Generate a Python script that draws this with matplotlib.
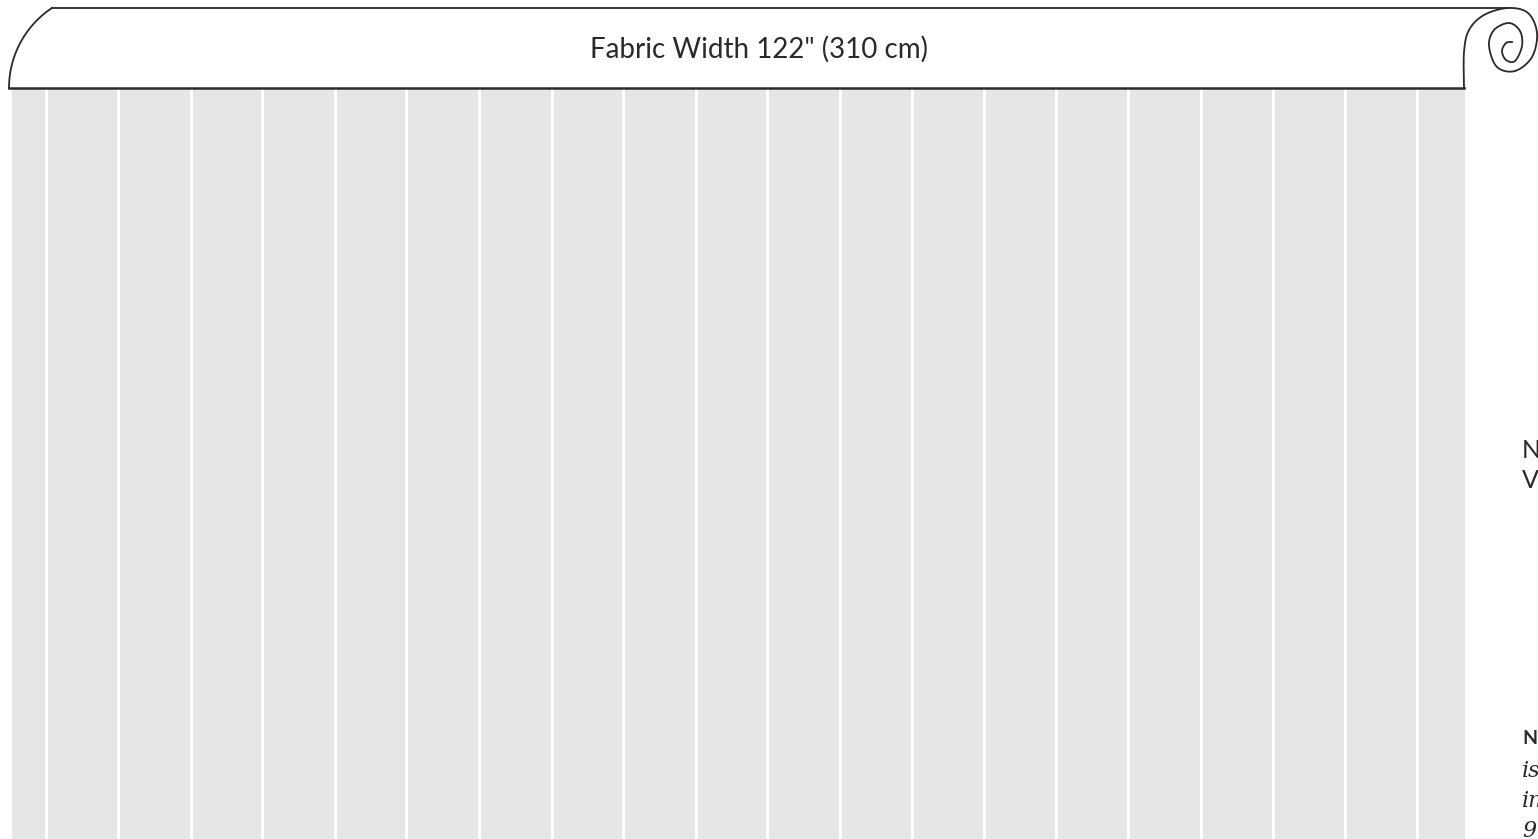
"""
Fabric roll layout diagram (122" wide fabric cut into vertical panels)
"""
import matplotlib.pyplot as plt
import numpy as np

# figure size in pixels
W, H = 1538, 839

# fabric data (inches)
fabric_width = 122
title = 'Fabric Width 122" (310 cm)'
# seam positions measured from the left edge of the fabric
seams = [2.85, 8.9, 15.0, 21.0, 27.1, 33.1, 39.2, 45.3, 51.3, 57.4,
         63.4, 69.5, 75.6, 81.6, 87.7, 93.7, 99.8, 105.9, 111.9, 118.0]

# side text (cut off at the right edge of the picture, as in the source)
side_lines = ['N', 'V']
note_head = 'N'
note_lines = ['is', 'in', '9']

grey = '#e5e6e8'
ink = '#2a2a2a'


def smooth(points, n=20):
    """Catmull-Rom curve through hand-placed points"""
    p = np.array(points, dtype=float)
    p = np.vstack([p[0], p, p[-1]])
    out = []
    for i in range(1, len(p) - 2):
        p0, p1, p2, p3 = p[i - 1], p[i], p[i + 1], p[i + 2]
        t = np.linspace(0, 1, n)[:, None]
        out.append(0.5 * ((2 * p1) + (-p0 + p2) * t
                          + (2 * p0 - 5 * p1 + 4 * p2 - p3) * t ** 2
                          + (-p0 + 3 * p1 - 3 * p2 + p3) * t ** 3))
    return np.vstack(out)


fig = plt.figure(figsize=(W / 100, H / 100), dpi=100)

# fabric panels
ax = fig.add_axes([12 / W, 0, 1453 / W, (H - 88) / H])
ax.set_xlim(0, fabric_width)
ax.set_ylim(0, 1)
ax.axvspan(0, fabric_width, color=grey, lw=0)
for s in seams:
    ax.axvline(s, color='white', lw=2.2)
ax.set_axis_off()

# roll outline drawn in pixel coordinates
ov = fig.add_axes([0, 0, 1, 1])
ov.set_xlim(0, W)
ov.set_ylim(H, 0)
ov.set_axis_off()
ov.patch.set_alpha(0)

# left rounded corner
cx, cy, r = 105, 88, 96
t = np.linspace(np.arctan2(8 - cy, 52 - cx), -np.pi, 60)
ov.plot(cx + r * np.cos(t), cy + r * np.sin(t), color=ink, lw=1.3)
# top and bottom edge
ov.plot([52, 1508], [8, 8], color=ink, lw=1.3)
ov.plot([9, 1464], [88, 88], color=ink, lw=1.8)

# scroll curl on the right
curl = [(1464, 88), (1464, 52), (1469, 30), (1484, 15), (1508, 8),
        (1528, 13), (1537, 33), (1532, 57), (1515, 71), (1497, 67),
        (1489, 46), (1494, 30), (1509, 23), (1520, 31), (1522, 46),
        (1515, 61), (1506, 60), (1502, 51), (1506, 43), (1512, 42)]
c = smooth(curl)
ov.plot(c[:, 0], c[:, 1], color=ink, lw=1.3)

# title
ov.text(759, 49, title, ha='center', va='center', fontsize=20,
        family='Lato', color=ink)

# text on the right
for i, s in enumerate(side_lines):
    ov.text(1522, 451 + i * 29, s, ha='left', va='center', fontsize=18,
            family='Lato', color=ink)
ov.text(1522, 739, note_head, ha='left', va='center', fontsize=14,
        family='Lato', weight='bold', color=ink)
for i, s in enumerate(note_lines):
    ov.text(1522, 771 + i * 30, s, ha='left', va='center', fontsize=16,
            family='DejaVu Serif', style='italic', color=ink)

fig.savefig('out.png', dpi=100)
